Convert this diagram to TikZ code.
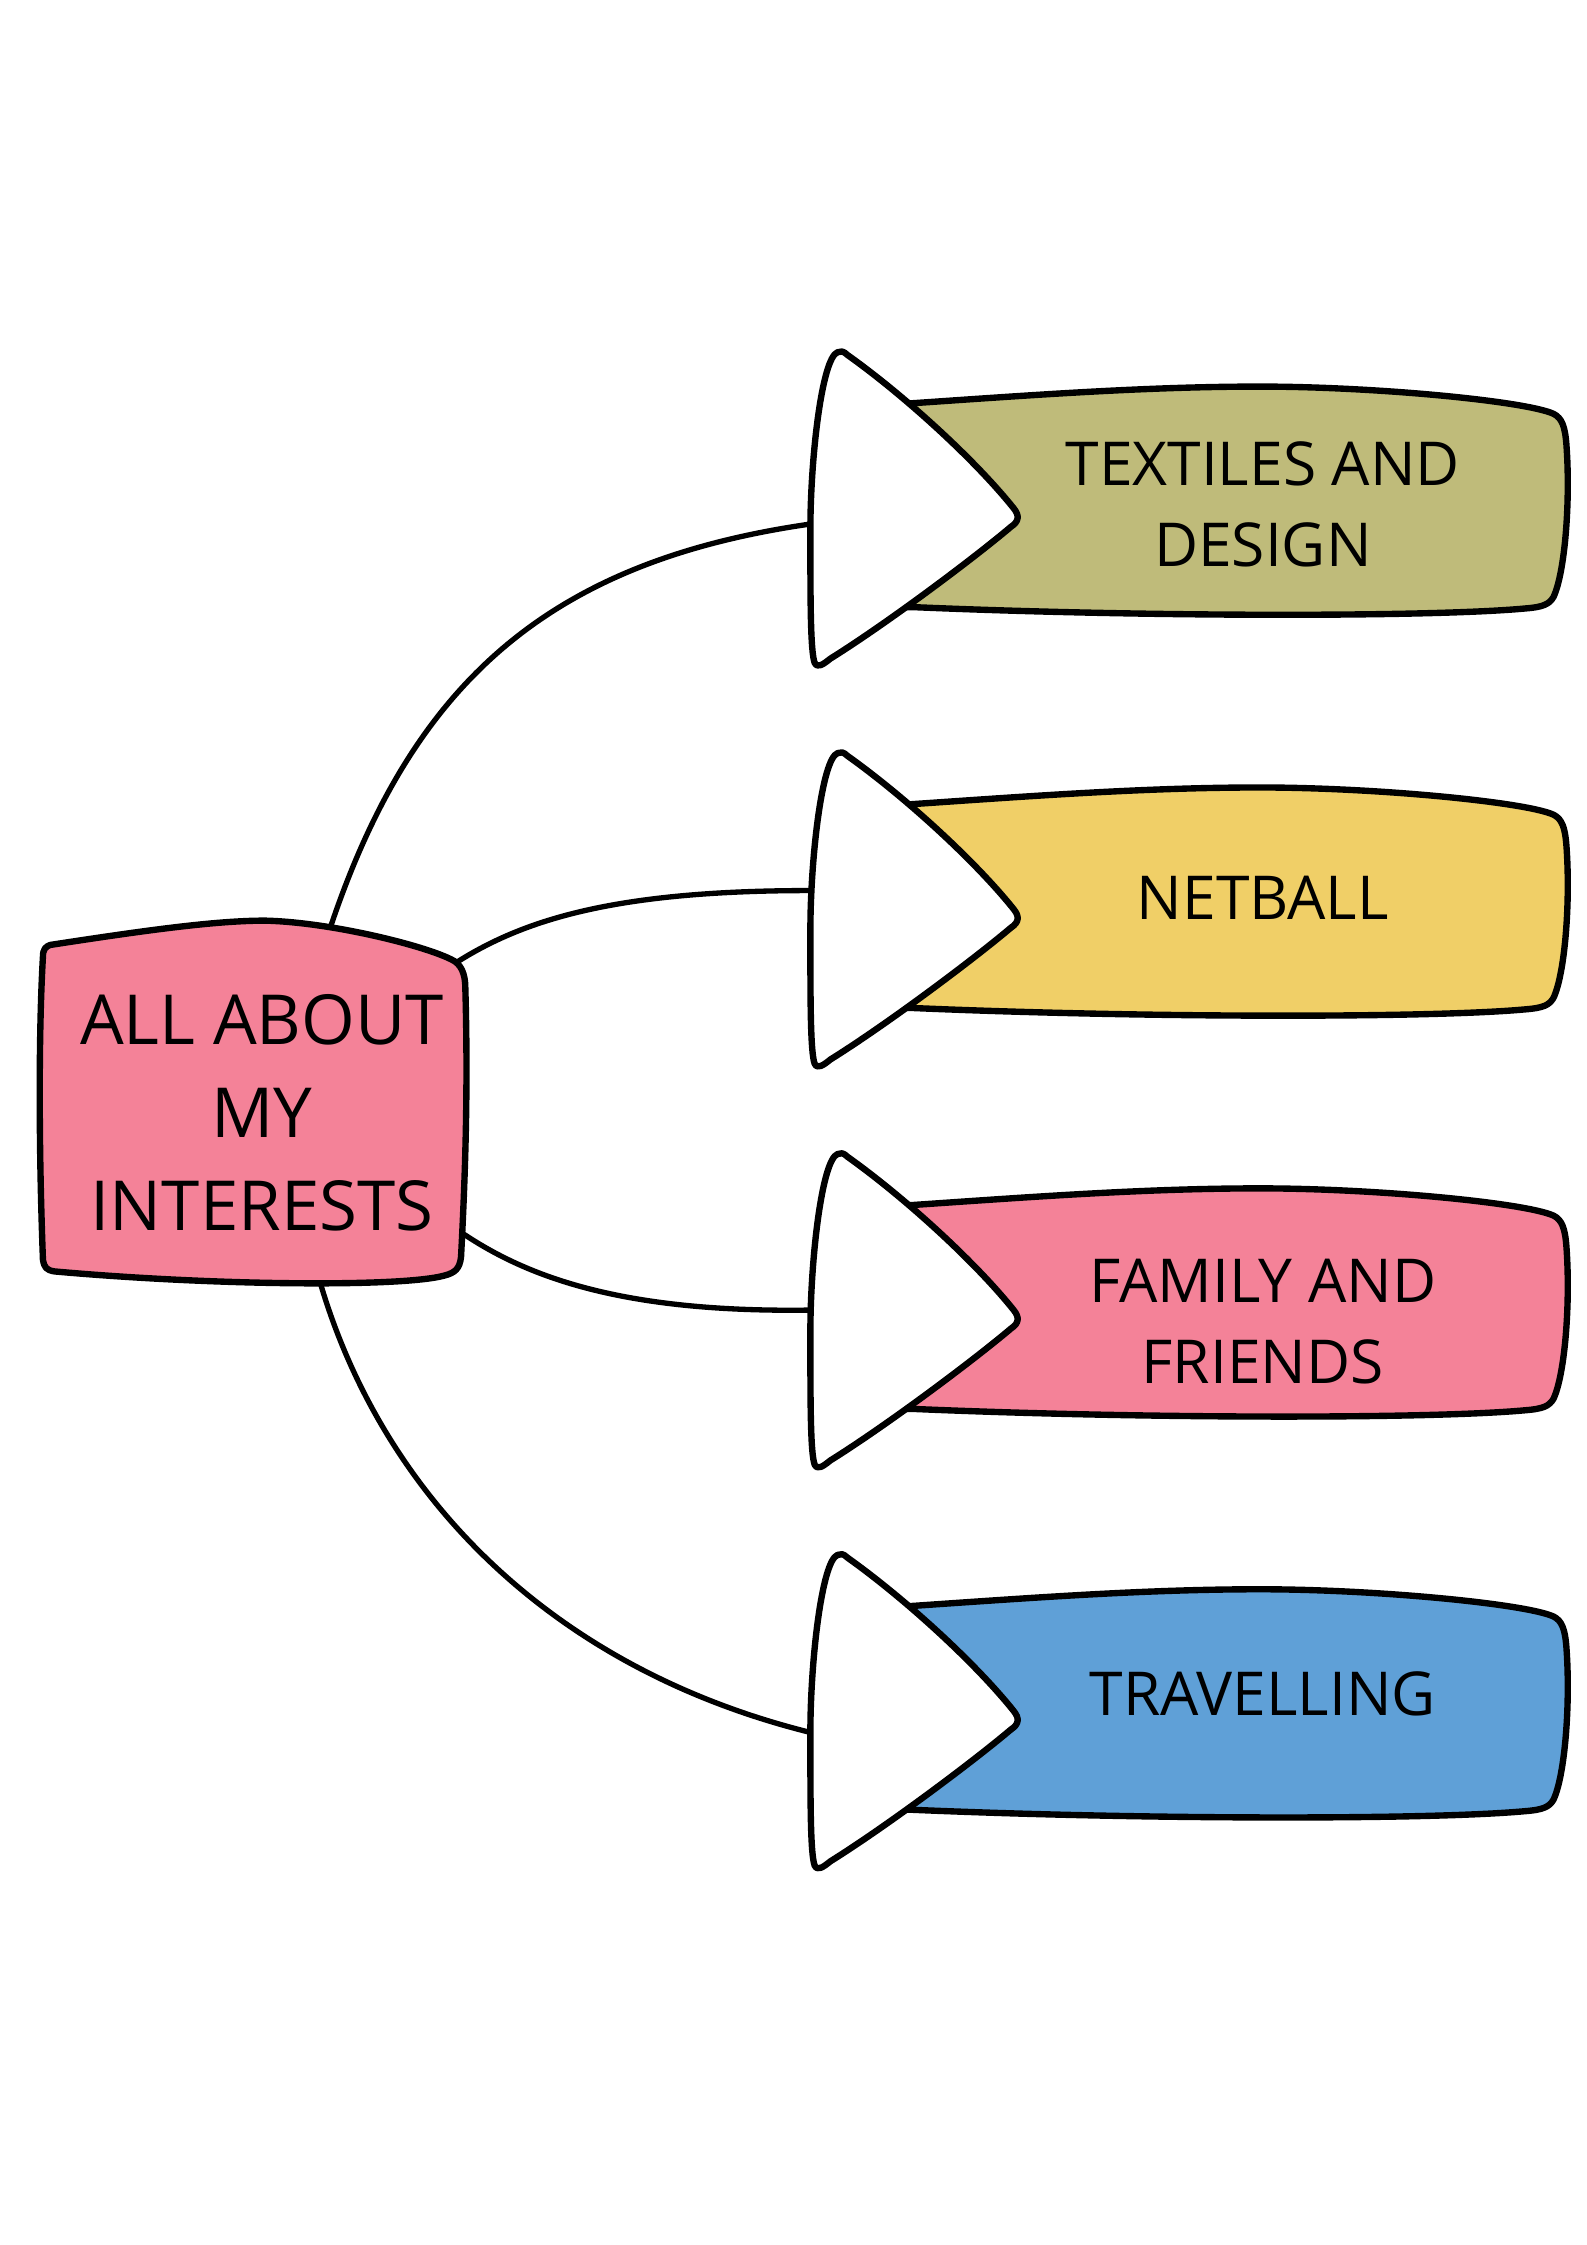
\documentclass[tikz,border=0pt]{standalone}
\usepackage{fontspec}
\setmainfont{Open Sans}
\definecolor{olivebox}{HTML}{BFBB7A}
\definecolor{yellowbox}{HTML}{F0CF67}
\definecolor{pinkbox}{HTML}{F48298}
\definecolor{bluebox}{HTML}{5FA0D7}
\tikzset{
  outline/.style={line width=2.4pt, line join=round},
  link/.style={line width=2pt},
  hubtext/.style={align=center, font=\fontsize{26}{35}\selectfont},
  tagtext/.style={align=center, font=\fontsize{22.8}{30.5}\selectfont}
}
\begin{document}
\begin{tikzpicture}[x=0.018953cm, y=-0.018953cm]
    \useasboundingbox (0,0) rectangle (1108,1568);
    % the four tags on the right
    \foreach \dy/\col/\ly/\ty/\name/\txt in {0/olivebox/366/352/textiles/{TEXTILES AND\\DESIGN},
        280/yellowbox/342/347/netball/{NETBALL},
        560/pinkbox/355/363/family/{FAMILY AND\\FRIENDS},
        840/bluebox/370/343/travel/{TRAVELLING}} {
      \begin{scope}[shift={(0,\dy)}]
        \draw[outline, fill=\col] (600,284) -- (632,282) .. controls (720,276) and (800,270) .. (880,270)
            .. controls (960,270) and (1065,280) .. (1085,289) .. controls (1091,292) and (1093,298) .. (1094,310)
            .. controls (1097,350) and (1093,400) .. (1085,417) .. controls (1082,422) and (1078,424) .. (1065,425)
            .. controls (1000,431) and (800,431) .. (637,424) -- (600,424) -- cycle;
        \draw[outline, fill=white] (585,246) .. controls (574,250) and (566,320) .. (566,370)
            .. controls (566,420) and (566,455) .. (569,463) .. controls (571,467) and (575,464) .. (580,460)
            .. controls (620,435) and (680,390) .. (706,368) .. controls (712,364) and (712,360) .. (708,355)
            .. controls (680,320) and (630,275) .. (592,248) .. controls (589,245) and (587,245) .. (585,246) -- cycle;
        \node[tagtext] (\name) at (882,\ty) {\txt};
        \coordinate (\name-in) at (566,\ly);
      \end{scope}
    }
    \coordinate (hub-a) at (230,650);
    \coordinate (hub-b) at (316,674);
    \coordinate (hub-c) at (321,860);
    \coordinate (hub-d) at (224,897);
    \draw[link] (hub-a) .. controls (288,475) and (385,392) .. (textiles-in);
    \draw[link] (hub-b) .. controls (365,642) and (430,622) .. (netball-in);
    \draw[link] (hub-c) .. controls (365,890) and (430,917) .. (family-in);
    \draw[link] (hub-d) .. controls (268,1045) and (385,1165) .. (travel-in);
    % centre box
    \draw[outline, fill=pinkbox] (35,660) .. controls (100,650) and (150,643) .. (185,643)
        .. controls (230,644) and (295,660) .. (315,670) .. controls (322,673) and (325,680) .. (325,690)
        .. controls (327,760) and (325,820) .. (322,878) .. controls (321,886) and (318,889) .. (310,891)
        .. controls (280,899) and (150,898) .. (38,888) .. controls (32,887) and (31,885) .. (30,880)
        .. controls (27,800) and (27,720) .. (30,668) .. controls (30,663) and (32,661) .. (35,660) -- cycle;
    \node[hubtext] (hub) at (183,777) {ALL ABOUT\\MY\\INTERESTS};
\end{tikzpicture}
\end{document}
